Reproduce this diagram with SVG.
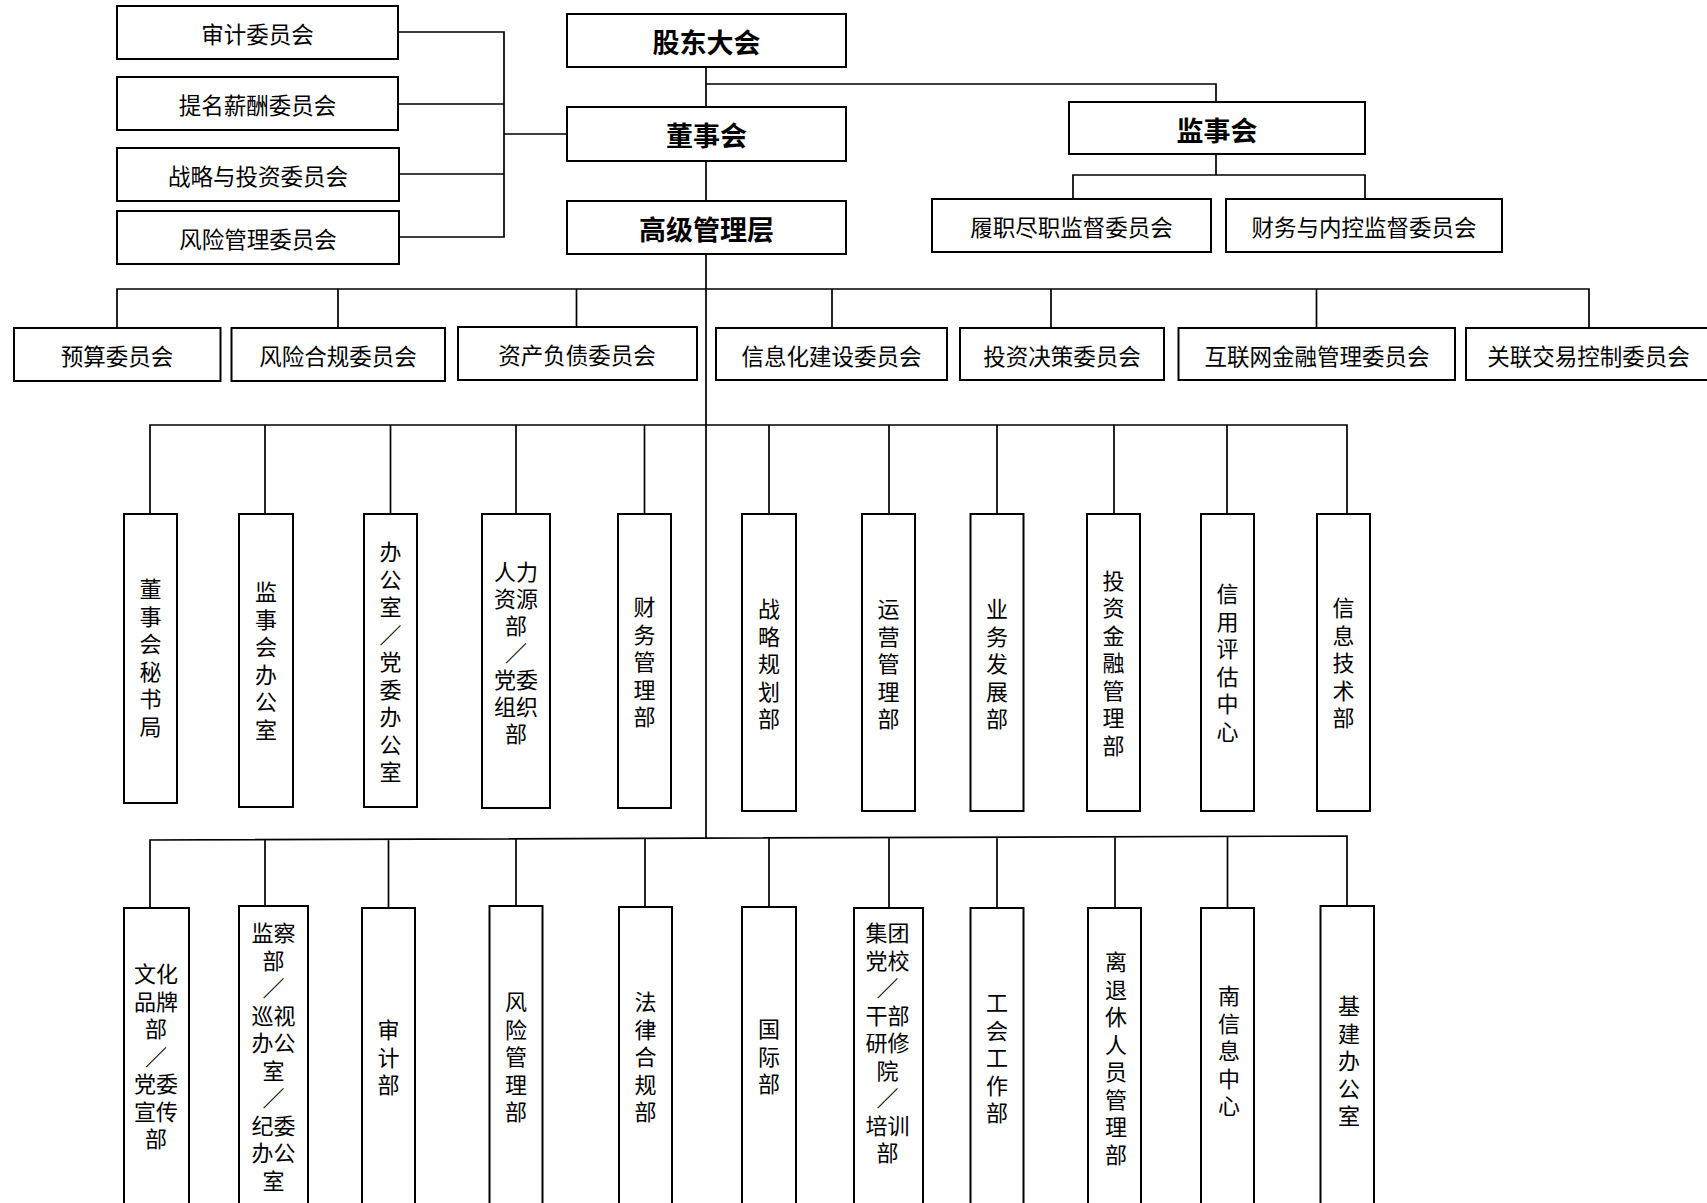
<svg xmlns="http://www.w3.org/2000/svg" width="1707" height="1203" viewBox="0 0 1707 1203">
<style>
.box{fill:#fff;stroke:#000;stroke-width:2}
.ln{fill:none;stroke:#000;stroke-width:1.7}
text{font-family:"Noto Sans CJK SC","Noto Sans",sans-serif;fill:#000;text-anchor:middle;dominant-baseline:central}
.t{font-size:22.5px}
.b{font-size:27px;font-weight:bold}
.v{font-size:22px;font-family:"Liberation Sans","Noto Sans CJK SC",sans-serif}
</style>
<rect width="1707" height="1203" fill="#fff"/>
<g id="connectors">
<path class="ln" d="M398,32H504V237H398M398,104H504M398,174H504M504,134H567"/>
<path class="ln" d="M706,67V107M706,161V201M706,254V838"/>
<path class="ln" d="M706,84H1216V102"/>
<path class="ln" d="M1216,154V175M1073,199V175H1365V199"/>
<path class="ln" d="M117,328V289H1589V328M338,289V328M576.5,289V328M832,289V328M1051,289V328M1316.5,289V328"/>
<path class="ln" d="M150,514V425H1347V514M265,425V514M390.5,425V514M516,425V514M644.5,425V514M769,425V514M889,425V514M997,425V514M1114,425V514M1227,425V514"/>
<path class="ln" d="M150,908V840L1347,836V906M265,840V906M388.5,840V908M516,839V906M645,839V907M769,838V907M889,838V908M997,837.5V908M1115,837V908M1227.5,837V908"/>
</g>
<g id="n_gudong"><rect class="box" x="567" y="14" width="279" height="53"/><text class="b" x="706.5" y="41">股东大会</text></g>
<g id="n_dongshi"><rect class="box" x="567" y="107" width="279" height="54"/><text class="b" x="706.5" y="134">董事会</text></g>
<g id="n_gaoguan"><rect class="box" x="567" y="201" width="279" height="53"/><text class="b" x="706.5" y="228">高级管理层</text></g>
<g id="n_jianshi"><rect class="box" x="1069" y="102" width="296" height="52"/><text class="b" x="1217" y="129">监事会</text></g>
<g id="n_lvzhi"><rect class="box" x="932" y="199" width="279" height="53"/><text class="t" x="1071.5" y="226">履职尽职监督委员会</text></g>
<g id="n_caiwuneikong"><rect class="box" x="1226" y="199" width="276" height="53"/><text class="t" x="1364" y="226">财务与内控监督委员会</text></g>
<g id="n_shenji"><rect class="box" x="117" y="6" width="281" height="53"/><text class="t" x="257.5" y="33">审计委员会</text></g>
<g id="n_timing"><rect class="box" x="117" y="77" width="281" height="53"/><text class="t" x="257.5" y="104">提名薪酬委员会</text></g>
<g id="n_zhanlue"><rect class="box" x="117" y="148" width="282" height="53"/><text class="t" x="258" y="175">战略与投资委员会</text></g>
<g id="n_fengxian"><rect class="box" x="117" y="211" width="282" height="53"/><text class="t" x="258" y="238">风险管理委员会</text></g>
<g id="n_yusuan"><rect class="box" x="14" y="328" width="206.5" height="53"/><text class="t" x="117" y="355">预算委员会</text></g>
<g id="n_fxhg"><rect class="box" x="231.5" y="328" width="213.5" height="53"/><text class="t" x="338" y="355">风险合规委员会</text></g>
<g id="n_zcfz"><rect class="box" x="458" y="327" width="239" height="53"/><text class="t" x="577" y="354">资产负债委员会</text></g>
<g id="n_xxh"><rect class="box" x="716" y="328" width="231" height="52"/><text class="t" x="831.5" y="355">信息化建设委员会</text></g>
<g id="n_tzjc"><rect class="box" x="960" y="328" width="204" height="52"/><text class="t" x="1062" y="355">投资决策委员会</text></g>
<g id="n_hlw"><rect class="box" x="1178.5" y="328" width="276.5" height="52"/><text class="t" x="1317" y="355">互联网金融管理委员会</text></g>
<g id="n_gljy"><rect class="box" x="1466" y="328" width="250" height="52"/><text class="t" x="1588.5" y="355">关联交易控制委员会</text></g>
<g id="d_dsmsj"><rect class="box" x="124" y="514" width="53" height="289"/><text class="v"><tspan x="150.5" y="589">董</tspan><tspan x="150.5" dy="27.5">事</tspan><tspan x="150.5" dy="27.5">会</tspan><tspan x="150.5" dy="27.5">秘</tspan><tspan x="150.5" dy="27.5">书</tspan><tspan x="150.5" dy="27.5">局</tspan></text></g>
<g id="d_jshbgs"><rect class="box" x="239" y="514" width="54" height="293"/><text class="v"><tspan x="266" y="592">监</tspan><tspan x="266" dy="27.5">事</tspan><tspan x="266" dy="27.5">会</tspan><tspan x="266" dy="27.5">办</tspan><tspan x="266" dy="27.5">公</tspan><tspan x="266" dy="27.5">室</tspan></text></g>
<g id="d_bgs"><rect class="box" x="364" y="514" width="53" height="293"/><text class="v"><tspan x="390.5" y="552">办</tspan><tspan x="390.5" dy="27.5">公</tspan><tspan x="390.5" dy="27.5">室</tspan><tspan x="390.5" dy="27.5">／</tspan><tspan x="390.5" dy="27.5">党</tspan><tspan x="390.5" dy="27.5">委</tspan><tspan x="390.5" dy="27.5">办</tspan><tspan x="390.5" dy="27.5">公</tspan><tspan x="390.5" dy="27.5">室</tspan></text></g>
<g id="d_rlzy"><rect class="box" x="482" y="514" width="68" height="294"/><text class="v"><tspan x="516" y="572">人力</tspan><tspan x="516" dy="27">资源</tspan><tspan x="516" dy="27">部</tspan><tspan x="516" dy="27">／</tspan><tspan x="516" dy="27">党委</tspan><tspan x="516" dy="27">组织</tspan><tspan x="516" dy="27">部</tspan></text></g>
<g id="d_cwgl"><rect class="box" x="618" y="514" width="53" height="294"/><text class="v"><tspan x="644.5" y="607">财</tspan><tspan x="644.5" dy="27.5">务</tspan><tspan x="644.5" dy="27.5">管</tspan><tspan x="644.5" dy="27.5">理</tspan><tspan x="644.5" dy="27.5">部</tspan></text></g>
<g id="d_zlgh"><rect class="box" x="742" y="514" width="54" height="297"/><text class="v"><tspan x="769" y="609">战</tspan><tspan x="769" dy="27.5">略</tspan><tspan x="769" dy="27.5">规</tspan><tspan x="769" dy="27.5">划</tspan><tspan x="769" dy="27.5">部</tspan></text></g>
<g id="d_yygl"><rect class="box" x="862" y="514" width="53" height="297"/><text class="v"><tspan x="888.5" y="609">运</tspan><tspan x="888.5" dy="27.5">营</tspan><tspan x="888.5" dy="27.5">管</tspan><tspan x="888.5" dy="27.5">理</tspan><tspan x="888.5" dy="27.5">部</tspan></text></g>
<g id="d_ywfz"><rect class="box" x="970.5" y="514" width="53" height="297"/><text class="v"><tspan x="997" y="609">业</tspan><tspan x="997" dy="27.5">务</tspan><tspan x="997" dy="27.5">发</tspan><tspan x="997" dy="27.5">展</tspan><tspan x="997" dy="27.5">部</tspan></text></g>
<g id="d_tzjr"><rect class="box" x="1087" y="514" width="53" height="297"/><text class="v"><tspan x="1113.5" y="580.5">投</tspan><tspan x="1113.5" dy="27.5">资</tspan><tspan x="1113.5" dy="27.5">金</tspan><tspan x="1113.5" dy="27.5">融</tspan><tspan x="1113.5" dy="27.5">管</tspan><tspan x="1113.5" dy="27.5">理</tspan><tspan x="1113.5" dy="27.5">部</tspan></text></g>
<g id="d_xypg"><rect class="box" x="1201" y="514" width="53" height="297"/><text class="v"><tspan x="1227.5" y="594">信</tspan><tspan x="1227.5" dy="27.5">用</tspan><tspan x="1227.5" dy="27.5">评</tspan><tspan x="1227.5" dy="27.5">估</tspan><tspan x="1227.5" dy="27.5">中</tspan><tspan x="1227.5" dy="27.5">心</tspan></text></g>
<g id="d_xxjs"><rect class="box" x="1317" y="514" width="53" height="297"/><text class="v"><tspan x="1343.5" y="608">信</tspan><tspan x="1343.5" dy="27.5">息</tspan><tspan x="1343.5" dy="27.5">技</tspan><tspan x="1343.5" dy="27.5">术</tspan><tspan x="1343.5" dy="27.5">部</tspan></text></g>
<g id="d_whpp"><rect class="box" x="124" y="908" width="65" height="300"/><text class="v"><tspan x="156" y="974">文化</tspan><tspan x="156" dy="27.5">品牌</tspan><tspan x="156" dy="27.5">部</tspan><tspan x="156" dy="27.5">／</tspan><tspan x="156" dy="27.5">党委</tspan><tspan x="156" dy="27.5">宣传</tspan><tspan x="156" dy="27.5">部</tspan></text></g>
<g id="d_jcb"><rect class="box" x="239" y="906" width="69" height="302"/><text class="v"><tspan x="273.5" y="933">监察</tspan><tspan x="273.5" dy="27.5">部</tspan><tspan x="273.5" dy="27.5">／</tspan><tspan x="273.5" dy="27.5">巡视</tspan><tspan x="273.5" dy="27.5">办公</tspan><tspan x="273.5" dy="27.5">室</tspan><tspan x="273.5" dy="27.5">／</tspan><tspan x="273.5" dy="27.5">纪委</tspan><tspan x="273.5" dy="27.5">办公</tspan><tspan x="273.5" dy="27.5">室</tspan></text></g>
<g id="d_sjb"><rect class="box" x="362" y="908" width="53" height="300"/><text class="v"><tspan x="388.5" y="1030">审</tspan><tspan x="388.5" dy="27.5">计</tspan><tspan x="388.5" dy="27.5">部</tspan></text></g>
<g id="d_fxgl"><rect class="box" x="489.5" y="906" width="53" height="302"/><text class="v"><tspan x="516" y="1002">风</tspan><tspan x="516" dy="27.5">险</tspan><tspan x="516" dy="27.5">管</tspan><tspan x="516" dy="27.5">理</tspan><tspan x="516" dy="27.5">部</tspan></text></g>
<g id="d_flhg"><rect class="box" x="619" y="907" width="53" height="301"/><text class="v"><tspan x="645.5" y="1002">法</tspan><tspan x="645.5" dy="27.5">律</tspan><tspan x="645.5" dy="27.5">合</tspan><tspan x="645.5" dy="27.5">规</tspan><tspan x="645.5" dy="27.5">部</tspan></text></g>
<g id="d_gjb"><rect class="box" x="742" y="907" width="54" height="301"/><text class="v"><tspan x="769" y="1029">国</tspan><tspan x="769" dy="27.5">际</tspan><tspan x="769" dy="27.5">部</tspan></text></g>
<g id="d_jtdx"><rect class="box" x="854" y="908" width="69" height="300"/><text class="v"><tspan x="887.5" y="933">集团</tspan><tspan x="887.5" dy="27.5">党校</tspan><tspan x="887.5" dy="27.5">／</tspan><tspan x="887.5" dy="27.5">干部</tspan><tspan x="887.5" dy="27.5">研修</tspan><tspan x="887.5" dy="27.5">院</tspan><tspan x="887.5" dy="27.5">／</tspan><tspan x="887.5" dy="27.5">培训</tspan><tspan x="887.5" dy="27.5">部</tspan></text></g>
<g id="d_ghgz"><rect class="box" x="970.5" y="908" width="53" height="300"/><text class="v"><tspan x="997" y="1003">工</tspan><tspan x="997" dy="27.5">会</tspan><tspan x="997" dy="27.5">工</tspan><tspan x="997" dy="27.5">作</tspan><tspan x="997" dy="27.5">部</tspan></text></g>
<g id="d_ltx"><rect class="box" x="1088" y="908" width="53" height="300"/><text class="v"><tspan x="1116" y="962">离</tspan><tspan x="1116" dy="27.5">退</tspan><tspan x="1116" dy="27.5">休</tspan><tspan x="1116" dy="27.5">人</tspan><tspan x="1116" dy="27.5">员</tspan><tspan x="1116" dy="27.5">管</tspan><tspan x="1116" dy="27.5">理</tspan><tspan x="1116" dy="27.5">部</tspan></text></g>
<g id="d_nxx"><rect class="box" x="1201" y="908" width="53" height="300"/><text class="v"><tspan x="1229" y="996">南</tspan><tspan x="1229" dy="27.5">信</tspan><tspan x="1229" dy="27.5">息</tspan><tspan x="1229" dy="27.5">中</tspan><tspan x="1229" dy="27.5">心</tspan></text></g>
<g id="d_jjbgs"><rect class="box" x="1320.5" y="906" width="53.5" height="302"/><text class="v"><tspan x="1349" y="1006">基</tspan><tspan x="1349" dy="27.5">建</tspan><tspan x="1349" dy="27.5">办</tspan><tspan x="1349" dy="27.5">公</tspan><tspan x="1349" dy="27.5">室</tspan></text></g>
</svg>
